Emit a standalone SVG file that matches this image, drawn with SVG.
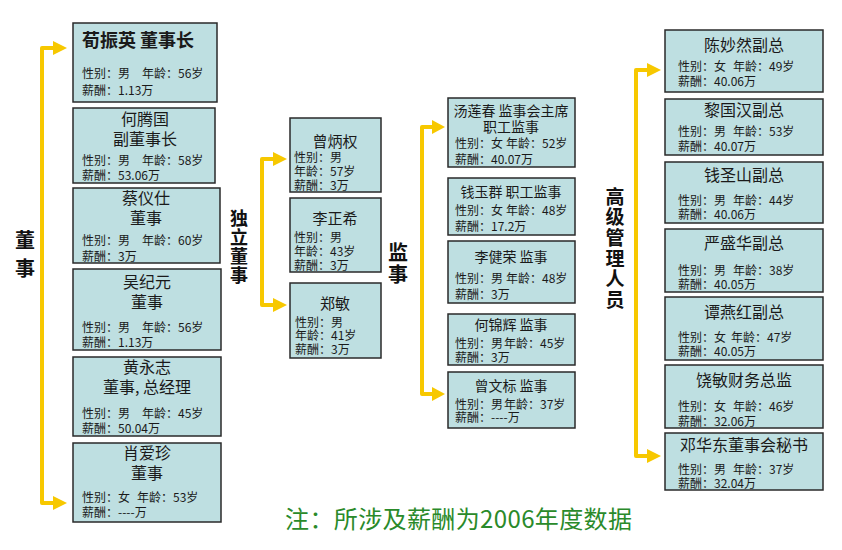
<svg xmlns="http://www.w3.org/2000/svg" width="842" height="550" viewBox="0 0 842 550">
<style>
text{font-family:"Noto Sans CJK SC","Liberation Sans",sans-serif;fill:#1a1a1a;}
.box{fill:#BEDFE1;stroke:#2a2a2a;stroke-width:1.5;}
.t{font-size:16px;}
.tr{font-size:15px;}
.ts{font-size:14px;}
.d{font-size:12px;}
.c{text-anchor:middle;}
.lab{font-weight:bold;fill:#111;writing-mode:vertical-rl;}
.arr{fill:none;stroke:#F7C800;stroke-width:4;stroke-linejoin:round;}
.head{fill:#F7C800;}
.note{font-size:24px;fill:#2A8A2A;}
</style>
<rect width="842" height="550" fill="#fff"/>

<g id="connectors">
<path class="arr" d="M54,48 H42 V503 H54"/>
<path class="head" d="M53,41 L67,48 L53,55 z"/>
<path class="head" d="M53,496 L67,503 L53,510 z"/>
<path class="arr" d="M274,159 H262 V305 H274"/>
<path class="head" d="M273,152 L287,159 L273,166 z"/>
<path class="head" d="M273,298 L287,305 L273,312 z"/>
<path class="arr" d="M433,127 H422 V394 H433"/>
<path class="head" d="M432,120 L445,127 L432,134 z"/>
<path class="head" d="M432,387 L445,394 L432,401 z"/>
<path class="arr" d="M648,70 H636 V456 H648"/>
<path class="head" d="M647,63 L661,70 L647,77 z"/>
<path class="head" d="M647,449 L661,456 L647,463 z"/>
</g>

<g id="label-dongshi">
<text class="lab" x="25" y="230" style="font-size:20px;letter-spacing:8px">董事</text>
</g>
<g id="label-duli">
<text class="lab" x="239" y="209" style="font-size:18px;letter-spacing:1px">独立董事</text>
</g>
<g id="label-jianshi">
<text class="lab" x="398" y="242" style="font-size:20px;letter-spacing:2px">监事</text>
</g>
<g id="label-gaoguan">
<text class="lab" x="615" y="187" style="font-size:19px;letter-spacing:1.6px">高级管理人员</text>
</g>

<!-- Board -->
<g id="n-xunzhenying">
<rect class="box" x="73" y="23" width="144" height="79"/>
<text><tspan x="82" y="47" style="font-size:18px;font-weight:bold">荀振英 董事长</tspan><tspan class="d" x="82" y="78">性别：男</tspan><tspan class="d" x="142" y="78">年龄：56岁</tspan><tspan class="d" x="82" y="95">薪酬：1.13万</tspan></text>
</g>
<g id="n-hetengguo">
<rect class="box" x="73" y="108" width="142" height="75"/>
<text><tspan class="t c" x="145" y="125">何腾国</tspan><tspan class="t c" x="145" y="145">副董事长</tspan><tspan class="d" x="82" y="165">性别：男</tspan><tspan class="d" x="142" y="165">年龄：58岁</tspan><tspan class="d" x="82" y="180">薪酬：53.06万</tspan></text>
</g>
<g id="n-caiyishi">
<rect class="box" x="73" y="188" width="147" height="75"/>
<text><tspan class="t c" x="146" y="204">蔡仪仕</tspan><tspan class="t c" x="146" y="224">董事</tspan><tspan class="d" x="82" y="245">性别：男</tspan><tspan class="d" x="142" y="245">年龄：60岁</tspan><tspan class="d" x="82" y="261">薪酬：3万</tspan></text>
</g>
<g id="n-wujiyuan">
<rect class="box" x="73" y="269" width="148" height="81"/>
<text><tspan class="t c" x="147" y="288">吴纪元</tspan><tspan class="t c" x="147" y="308">董事</tspan><tspan class="d" x="82" y="332">性别：男</tspan><tspan class="d" x="142" y="332">年龄：56岁</tspan><tspan class="d" x="82" y="347">薪酬：1.13万</tspan></text>
</g>
<g id="n-huangyongzhi">
<rect class="box" x="73" y="357" width="148" height="79"/>
<text><tspan class="t c" x="147" y="373">黄永志</tspan><tspan class="t c" x="147" y="393">董事, 总经理</tspan><tspan class="d" x="82" y="418">性别：男</tspan><tspan class="d" x="142" y="418">年龄：45岁</tspan><tspan class="d" x="82" y="433">薪酬：50.04万</tspan></text>
</g>
<g id="n-xiaoaizhen">
<rect class="box" x="73" y="443" width="148" height="79"/>
<text><tspan class="t c" x="147" y="459">肖爱珍</tspan><tspan class="t c" x="147" y="479">董事</tspan><tspan class="d" x="82" y="502">性别：女</tspan><tspan class="d" x="137" y="502">年龄：53岁</tspan><tspan class="d" x="82" y="517">薪酬：----万</tspan></text>
</g>

<!-- Independent directors -->
<g id="n-zengbingquan">
<rect class="box" x="290" y="118" width="91" height="74"/>
<text><tspan class="tr c" x="335" y="147">曾炳权</tspan><tspan class="d" x="294" y="162">性别：男</tspan><tspan class="d" x="294" y="176">年龄：57岁</tspan><tspan class="d" x="294" y="190">薪酬：3万</tspan></text>
</g>
<g id="n-lizhengxi">
<rect class="box" x="290" y="198" width="91" height="74"/>
<text><tspan class="tr c" x="335" y="224">李正希</tspan><tspan class="d" x="294" y="242">性别：男</tspan><tspan class="d" x="294" y="256">年龄：43岁</tspan><tspan class="d" x="294" y="270">薪酬：3万</tspan></text>
</g>
<g id="n-zhengmin">
<rect class="box" x="290" y="283" width="91" height="75"/>
<text><tspan class="tr c" x="335" y="309">郑敏</tspan><tspan class="d" x="295" y="327">性别：男</tspan><tspan class="d" x="295" y="340">年龄：41岁</tspan><tspan class="d" x="295" y="354">薪酬：3万</tspan></text>
</g>

<!-- Supervisors -->
<g id="n-tanglianchun">
<rect class="box" x="448" y="98" width="127" height="69"/>
<text><tspan class="ts c" x="511" y="116">汤莲春 监事会主席</tspan><tspan class="ts c" x="511" y="132">职工监事</tspan><tspan class="d" x="455" y="148">性别：女</tspan><tspan class="d" x="506" y="148">年龄：52岁</tspan><tspan class="d" x="455" y="164">薪酬：40.07万</tspan></text>
</g>
<g id="n-qianyuqun">
<rect class="box" x="448" y="178" width="127" height="57"/>
<text><tspan class="ts c" x="511" y="197">钱玉群 职工监事</tspan><tspan class="d" x="455" y="215">性别：女</tspan><tspan class="d" x="506" y="215">年龄：48岁</tspan><tspan class="d" x="455" y="231">薪酬：17.2万</tspan></text>
</g>
<g id="n-lijianrong">
<rect class="box" x="448" y="241" width="127" height="62"/>
<text><tspan class="ts c" x="511" y="262">李健荣 监事</tspan><tspan class="d" x="455" y="283">性别：男</tspan><tspan class="d" x="506" y="283">年龄：48岁</tspan><tspan class="d" x="455" y="299">薪酬：3万</tspan></text>
</g>
<g id="n-hejinhui">
<rect class="box" x="448" y="314" width="127" height="51"/>
<text><tspan class="ts c" x="511" y="330">何锦辉 监事</tspan><tspan class="d" x="455" y="348">性别：男</tspan><tspan class="d" x="504" y="348">年龄：45岁</tspan><tspan class="d" x="455" y="362">薪酬：3万</tspan></text>
</g>
<g id="n-zengwenbiao">
<rect class="box" x="448" y="372" width="127" height="56"/>
<text><tspan class="ts c" x="511" y="391">曾文标 监事</tspan><tspan class="d" x="455" y="409">性别：男</tspan><tspan class="d" x="504" y="409">年龄：37岁</tspan><tspan class="d" x="455" y="422">薪酬：----万</tspan></text>
</g>

<!-- Senior management -->
<g id="n-chenmiaoran">
<rect class="box" x="665" y="30" width="158" height="62"/>
<text><tspan class="t c" x="744" y="51">陈妙然副总</tspan><tspan class="d" x="678" y="71">性别：女</tspan><tspan class="d" x="733" y="71">年龄：49岁</tspan><tspan class="d" x="678" y="86">薪酬：40.06万</tspan></text>
</g>
<g id="n-liguohan">
<rect class="box" x="665" y="99" width="158" height="56"/>
<text><tspan class="t c" x="744" y="116">黎国汉副总</tspan><tspan class="d" x="678" y="136">性别：男</tspan><tspan class="d" x="733" y="136">年龄：53岁</tspan><tspan class="d" x="678" y="151">薪酬：40.07万</tspan></text>
</g>
<g id="n-qianshengshan">
<rect class="box" x="665" y="162" width="158" height="61"/>
<text><tspan class="t c" x="744" y="181">钱圣山副总</tspan><tspan class="d" x="678" y="205">性别：男</tspan><tspan class="d" x="733" y="205">年龄：44岁</tspan><tspan class="d" x="678" y="219">薪酬：40.06万</tspan></text>
</g>
<g id="n-yanshenghua">
<rect class="box" x="665" y="229" width="158" height="63"/>
<text><tspan class="t c" x="744" y="249">严盛华副总</tspan><tspan class="d" x="678" y="275">性别：男</tspan><tspan class="d" x="733" y="275">年龄：38岁</tspan><tspan class="d" x="678" y="289">薪酬：40.05万</tspan></text>
</g>
<g id="n-tanyanhong">
<rect class="box" x="665" y="297" width="158" height="63"/>
<text><tspan class="t c" x="744" y="318">谭燕红副总</tspan><tspan class="d" x="678" y="342">性别：女</tspan><tspan class="d" x="731" y="342">年龄：47岁</tspan><tspan class="d" x="678" y="356">薪酬：40.05万</tspan></text>
</g>
<g id="n-raomin">
<rect class="box" x="665" y="365" width="158" height="63"/>
<text><tspan class="t c" x="744" y="386">饶敏财务总监</tspan><tspan class="d" x="678" y="411">性别：女</tspan><tspan class="d" x="733" y="411">年龄：46岁</tspan><tspan class="d" x="678" y="426">薪酬：32.06万</tspan></text>
</g>
<g id="n-denghuadong">
<rect class="box" x="665" y="433" width="158" height="57"/>
<text><tspan class="t c" x="744" y="451">邓华东董事会秘书</tspan><tspan class="d" x="678" y="474">性别：男</tspan><tspan class="d" x="733" y="474">年龄：37岁</tspan><tspan class="d" x="678" y="488">薪酬：32.04万</tspan></text>
</g>

<g id="note">
<text class="note" x="285" y="528" textLength="347" lengthAdjust="spacing">注：所涉及薪酬为2006年度数据</text>
</g>
</svg>
